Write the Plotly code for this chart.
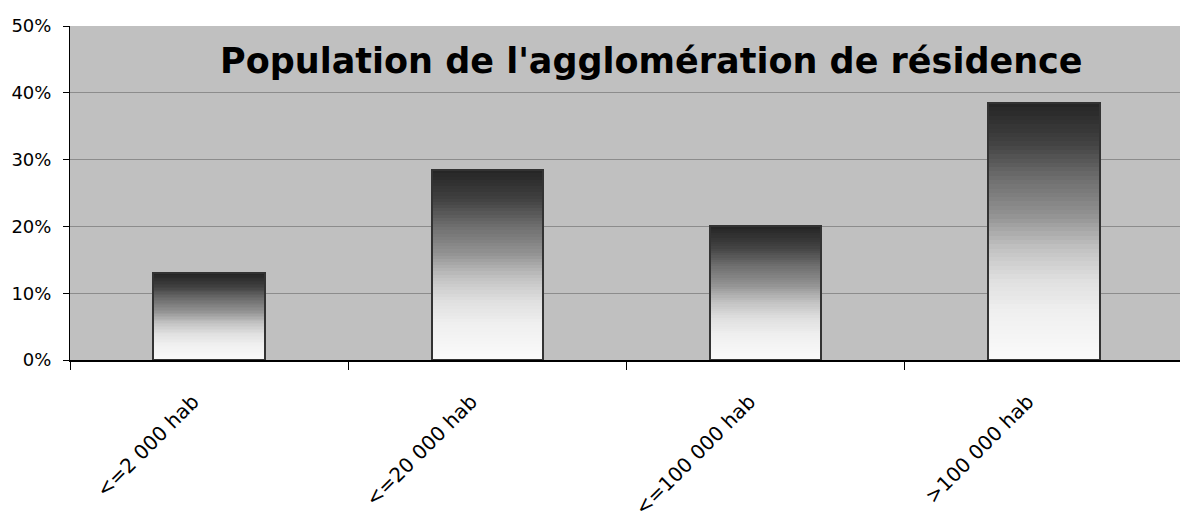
import plotly.graph_objects as go

categories = ["<=2 000 hab", "<=20 000 hab", "<=100 000 hab", ">100 000 hab"]
values = [13.0, 28.4, 20.0, 38.5]
title = "Population de l'agglomération de résidence"

# gradient stops (position from bottom 0 -> top 1, grey level)
grad_pos = [0.0, 0.18, 0.31, 0.44, 0.57, 0.70, 0.85, 1.0]
grad_lvl = [250, 240, 224, 192, 144, 112, 64, 37]

N = 60


def grey(t):
    for i in range(len(grad_pos) - 1):
        if grad_pos[i] <= t <= grad_pos[i + 1]:
            f = (t - grad_pos[i]) / (grad_pos[i + 1] - grad_pos[i])
            g = round(grad_lvl[i] + f * (grad_lvl[i + 1] - grad_lvl[i]))
            return f"rgb({g},{g},{g})"
    return "rgb(37,37,37)"


fig = go.Figure()

# bars built from stacked slices to get the vertical gradient
for k in range(N):
    fig.add_trace(go.Bar(
        x=categories,
        y=[v / N for v in values],
        marker=dict(color=grey((k + 0.5) / N), line=dict(width=0)),
        width=0.4,
        showlegend=False,
        hoverinfo="skip",
    ))

# outline of each bar
fig.add_trace(go.Bar(
    x=categories,
    y=values,
    xaxis="x2",
    yaxis="y2",
    marker=dict(color="rgba(0,0,0,0)", line=dict(color="#333333", width=2)),
    width=0.4,
    showlegend=False,
))

font = "DejaVu Sans"

fig.update_layout(
    width=1180,
    height=514,
    barmode="stack",
    paper_bgcolor="white",
    plot_bgcolor="#c0c0c0",
    margin=dict(l=62, r=5, t=18, b=162),
    font=dict(family=font, color="black", size=18),
    xaxis=dict(
        type="category",
        range=[-0.5, 3.5],
        automargin=False,
        showline=True, linecolor="black", linewidth=2,
        ticks="outside", tickson="boundaries", ticklen=8, tickcolor="black",
        tickangle=-45,
        tickfont=dict(size=20),
        showgrid=False,
        ticklabelshift=-16,
        ticklabelstandoff=20,
    ),
    yaxis=dict(
        range=[0, 50],
        automargin=False,
        tickvals=[0, 10, 20, 30, 40, 50],
        ticktext=["0%", "10%", "20%", "30%", "40%", "50%"],
        showline=True, linecolor="black", linewidth=1,
        ticks="outside", ticklen=6, tickcolor="black",
        gridcolor="#8c8c8c", gridwidth=1,
        zeroline=False,
        tickfont=dict(size=18),
        ticklabelstandoff=8,
    ),
    xaxis2=dict(type="category", range=[-0.5, 3.5], overlaying="x",
                visible=False, matches="x"),
    yaxis2=dict(range=[0, 50], overlaying="y", visible=False),
    annotations=[dict(
        text="<b>" + title + "</b>",
        xref="paper", yref="paper",
        x=0.5225, y=0.895,
        xanchor="center", yanchor="middle",
        showarrow=False,
        font=dict(family=font, size=35, color="black"),
    )],
)

fig.write_html("out.html")
